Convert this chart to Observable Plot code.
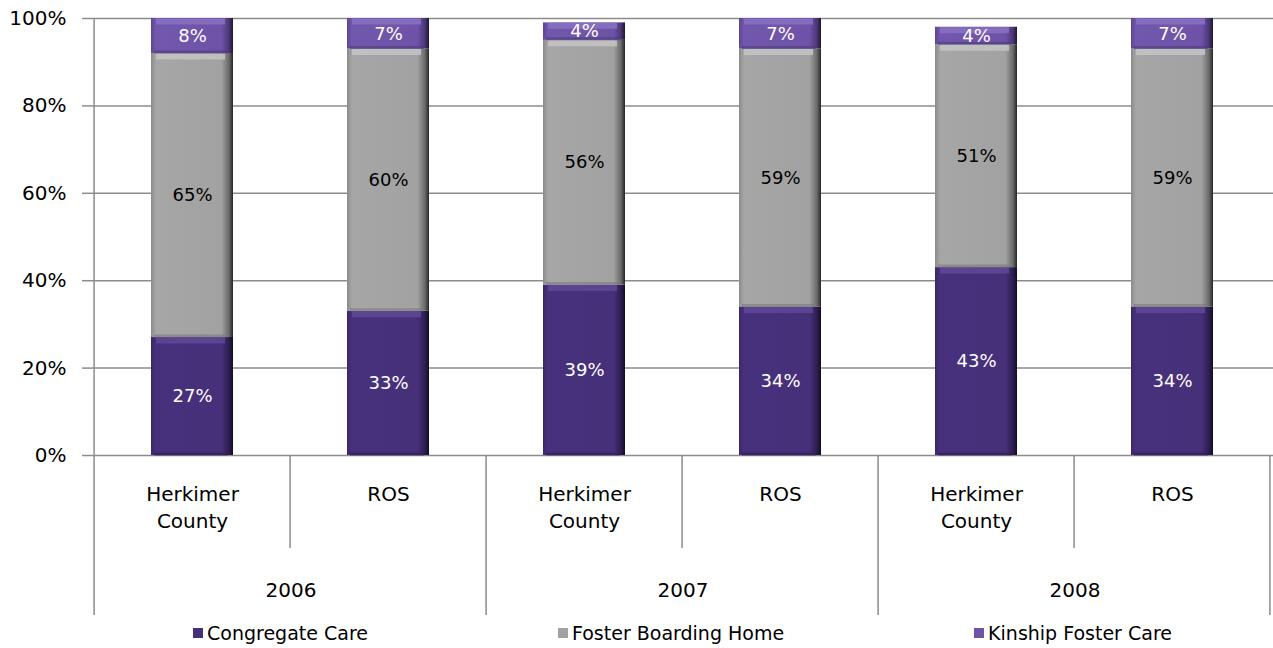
<!DOCTYPE html>
<html>
<head>
<meta charset="utf-8">
<script src="https://cdn.jsdelivr.net/npm/d3@7"></script>
<script src="https://cdn.jsdelivr.net/npm/@observablehq/plot@0.6"></script>
<style>
  html, body { margin: 0; padding: 0; background: #fff; }
  body { width: 1273px; height: 648px; overflow: hidden; font-family: "Comic Sans MS", "DejaVu Sans", sans-serif; }
  #legend { display: flex; justify-content: center; align-items: center; height: 36px; padding-left: 92px; gap: 190px; font-size: 19px; color: #000; }
  #legend .item { display: flex; align-items: center; white-space: nowrap; }
  #legend .sw { width: 10px; height: 10px; margin-right: 4px; display: inline-block; }
</style>
</head>
<body>
<div id="chart"></div>
<div id="legend"></div>
<script>
// ---- data ----
const years = ["2006", "2007", "2008"];
const groups = ["Herkimer County", "ROS"];
const series = ["Congregate Care", "Foster Boarding Home", "Kinship Foster Care"];
const congregate = [27, 33, 39, 34, 43, 34];
const foster = [65, 60, 56, 59, 51, 59];
const kinship = [8, 7, 4, 7, 4, 7];
const yTicks = [0, 20, 40, 60, 80, 100];
const groupLabels = {"Herkimer County": "Herkimer\nCounty", "ROS": "ROS"};

// ---- build table ----
const keys = [];
years.forEach(y => groups.forEach(g => keys.push(y + "|" + g)));
const seriesValues = [congregate, foster, kinship];
const rows = [];
keys.forEach((k, i) => series.forEach((s, j) => rows.push({key: k, series: s, value: seriesValues[j][i]})));

// ---- layout ----
const W = 1273, H = 615, ML = 92, MR = 0, MT = 18, MB = 160;
const step = (W - ML - MR) / keys.length;
const frameH = H - MT - MB;
const gridColor = "#8c8c8c";
const font = '"Comic Sans MS", "DejaVu Sans", sans-serif';

const fills = ["url(#gC)", "url(#gF)", "url(#gK)"];
const topShade = ["#5f4896", "#c4c4c4", "#8a72c2"];
const botShade = ["#2f2055", "#7a7a7a", "#4d3a7c"];

const stackOpts = {x: "key", y: "value", z: "series", order: series};

const chart = Plot.plot({
  width: W, height: H,
  marginLeft: ML, marginRight: MR, marginTop: MT, marginBottom: MB,
  style: {fontFamily: font, fontSize: "18px", background: "#fff", color: "#000", overflow: "visible"},
  x: {domain: keys, paddingInner: 0.58, paddingOuter: 0.29, axis: null},
  y: {domain: [0, 100], axis: null},
  color: {domain: series, range: fills},
  marks: [
    Plot.gridY({ticks: yTicks, stroke: gridColor, strokeOpacity: 1, strokeWidth: 1.5}),
    Plot.axisY({ticks: yTicks, label: null, tickFormat: d => d + "%", tickSize: 10, tickPadding: 16, stroke: gridColor, strokeWidth: 1.5, fill: "#000", fontSize: 20}),
    Plot.barY(rows, Plot.stackY({...stackOpts, fill: "series"})),
    // bevel highlights (top) and shadows (bottom) of each segment
    ...series.map((s, j) => Plot.tickY(rows, Plot.filter(d => d.series === s, Plot.stackY2({...stackOpts, stroke: topShade[j], strokeWidth: 6, dy: 3, insetLeft: 5, insetRight: 8, strokeOpacity: 0.85})))),
    ...series.map((s, j) => Plot.tickY(rows, Plot.filter(d => d.series === s, Plot.stackY1({...stackOpts, stroke: botShade[j], strokeWidth: 3, dy: -1.5, insetLeft: 3, insetRight: 5, strokeOpacity: 0.6})))),
    Plot.text(rows, Plot.filter(d => d.series !== series[1], Plot.stackY({...stackOpts, text: d => d.value + "%", fill: "#fff", fontSize: 18}))),
    Plot.text(rows, Plot.filter(d => d.series === series[1], Plot.stackY({...stackOpts, text: d => d.value + "%", fill: "#000", fontSize: 18}))),
    // left axis line, full height
    Plot.ruleX([keys[0]], {x: d => d, dx: -step / 2, insetBottom: -MB, stroke: gridColor, strokeWidth: 1.5}),
    // year separators
    Plot.ruleX([keys[2], keys[4]], {x: d => d, dx: -step / 2, insetTop: frameH, insetBottom: -MB, stroke: gridColor, strokeWidth: 1.5}),
    Plot.ruleX([keys[5]], {x: d => d, dx: step / 2 - 1, insetTop: frameH, insetBottom: -MB, stroke: gridColor, strokeWidth: 1.5}),
    // group separators
    Plot.ruleX([keys[1], keys[3], keys[5]], {x: d => d, dx: -step / 2, insetTop: frameH, insetBottom: -93, stroke: gridColor, strokeWidth: 1.5}),
    // group labels
    Plot.text(keys, {x: d => d, text: d => groupLabels[d.split("|")[1]], frameAnchor: "bottom", lineAnchor: "top", dy: 26, lineHeight: 1.35, fill: "#000", fontSize: 20}),
    // year labels
    Plot.text(years, {x: (d) => d + "|" + groups[0], text: d => d, dx: step / 2, frameAnchor: "bottom", lineAnchor: "top", dy: 127, fill: "#000", fontSize: 20})
  ]
});

// gradient defs for bevelled bars
const defs = d3.select(chart).insert("defs", ":first-child");
const grads = {
  gC: [["0", "#3a2767"], ["0.06", "#48317c"], ["0.86", "#46307a"], ["0.95", "#2c1e50"], ["1", "#120c20"]],
  gF: [["0", "#8a8a8a"], ["0.06", "#a6a6a6"], ["0.86", "#a2a2a2"], ["0.95", "#6a6a6a"], ["1", "#262626"]],
  gK: [["0", "#5c4590"], ["0.06", "#7258ad"], ["0.86", "#6e52a8"], ["0.95", "#4a3775"], ["1", "#1e1630"]]
};
for (const [id, stops] of Object.entries(grads)) {
  const g = defs.append("linearGradient").attr("id", id).attr("x1", "0").attr("x2", "1").attr("y1", "0").attr("y2", "0");
  stops.forEach(([o, c]) => g.append("stop").attr("offset", o).attr("stop-color", c));
}
document.getElementById("chart").appendChild(chart);

// legend
const swatch = ["#46307a", "#a2a2a2", "#6e52a8"];
const legend = d3.select("#legend");
series.forEach((s, j) => {
  const it = legend.append("div").attr("class", "item");
  it.append("span").attr("class", "sw").style("background", swatch[j]);
  it.append("span").text(s);
});
</script>
</body>
</html>
